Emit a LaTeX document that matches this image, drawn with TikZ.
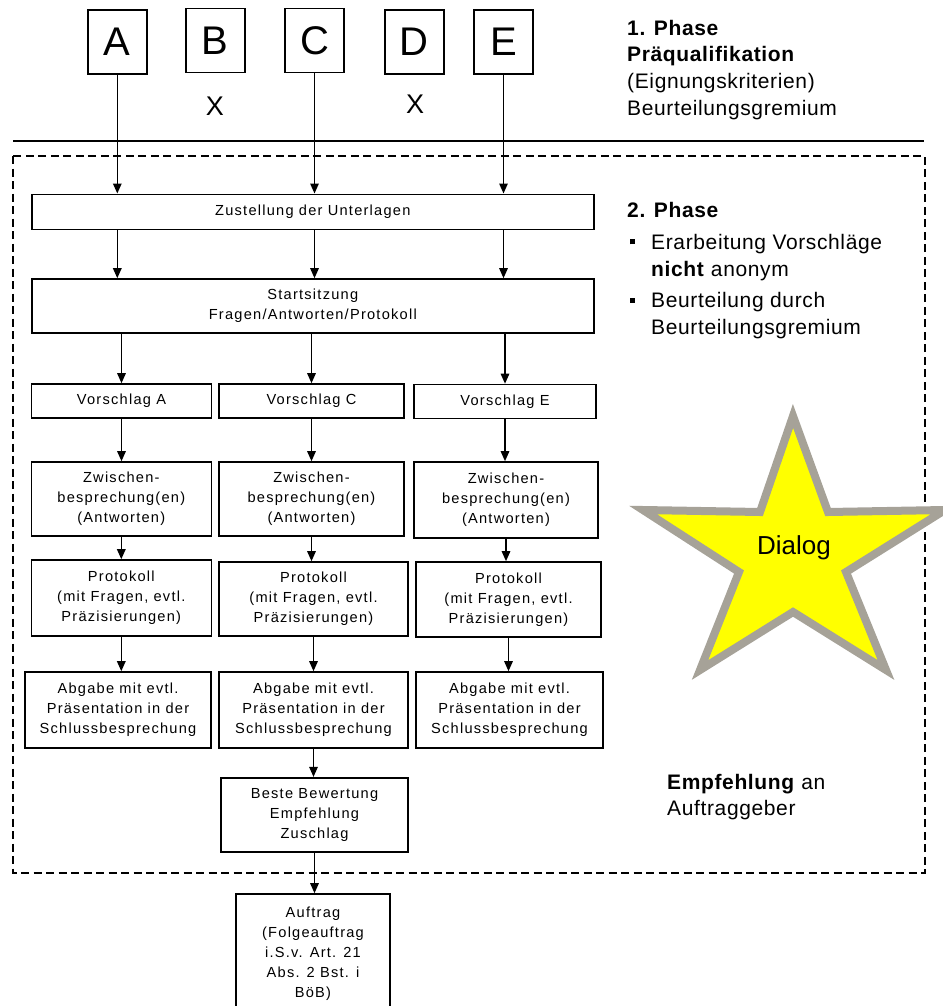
\documentclass[tikz,border=0pt]{standalone}
\usepackage{fontspec}
\setmainfont{Liberation Sans}
\newfontfamily\boxfont[LetterSpace=8.5]{Liberation Sans}
\newfontfamily\sidefont[LetterSpace=3]{Liberation Sans}
\usetikzlibrary{arrows.meta}
\definecolor{starline}{RGB}{166,162,152}
\definecolor{starfill}{RGB}{255,255,0}

\begin{document}
\begin{tikzpicture}[x=1pt, y=-1pt, >={Triangle[length=10pt,width=8.5pt]}]
        \tikzstyle{every node}=[inner sep=0pt]
        \tikzstyle{firm}=[draw, line width=1.6pt, minimum width=59pt, minimum height=64pt, font=\fontsize{40}{40}\selectfont]
        \tikzstyle{stepbox}=[draw, line width=1.6pt, align=center, font=\boxfont\fontsize{14.6}{20}\selectfont]
        \tikzstyle{side}=[anchor=north west, font=\sidefont\fontsize{21}{26.7}\selectfont]
        \tikzstyle{flow}=[->, line width=1.4pt]

        \useasboundingbox (0,0) rectangle (942,1006);

        % phase line and dialog frame
        \draw[line width=1.6pt] (13,140.7) -- (924,140.7);
        \draw[line width=1.3pt, dash pattern=on 8pt off 4.5pt] (13,156) rectangle (925,873);

        % firms
        \node (A) [firm] at (117.3,42) {A};
        \node (B) [firm] at (215.3,40.5) {B};
        \node (C) [firm] at (314.5,40.5) {C};
        \node (D) [firm] at (414.3,42) {D};
        \node (E) [firm] at (503.5,42) {E};
        \node (xB) [font=\fontsize{27}{27}\selectfont] at (215,106.7) {X};
        \node (xD) [font=\fontsize{27}{27}\selectfont] at (415,104) {X};

        % steps
        \node (zu)    [stepbox, minimum width=562pt, minimum height=35pt] at (312.8,211.8) {Zustellung der Unterlagen};
        \node (start) [stepbox, minimum width=562pt, minimum height=54pt] at (312.8,306) {Startsitzung\\Fragen/Antworten/Protokoll};

        \node (vA) [stepbox, minimum width=180pt, minimum height=34pt] at (121.5,401) {Vorschlag A};
        \node (vC) [stepbox, minimum width=185pt, minimum height=34pt] at (311.5,401) {Vorschlag C};
        \node (vE) [stepbox, minimum width=182pt, minimum height=34pt] at (505,401.5) {Vorschlag E};

        \node (zwA) [stepbox, minimum width=180pt, minimum height=74pt] at (121.3,499) {Zwischen-\\besprechung(en)\\(Antworten)};
        \node (zwC) [stepbox, minimum width=185pt, minimum height=74pt] at (311.5,499) {Zwischen-\\besprechung(en)\\(Antworten)};
        \node (zwE) [stepbox, minimum width=184pt, minimum height=76pt] at (506,500) {Zwischen-\\besprechung(en)\\(Antworten)};

        \node (pA) [stepbox, minimum width=180pt, minimum height=76pt] at (121.3,598) {Protokoll\\(mit Fragen, evtl.\\Präzisierungen)};
        \node (pC) [stepbox, minimum width=189pt, minimum height=74pt] at (313.5,599) {Protokoll\\(mit Fragen, evtl.\\Präzisierungen)};
        \node (pE) [stepbox, minimum width=185pt, minimum height=75pt] at (508.5,599.5) {Protokoll\\(mit Fragen, evtl.\\Präzisierungen)};

        \node (aA) [stepbox, minimum width=186pt, minimum height=76pt] at (118,710) {Abgabe mit evtl.\\Präsentation in der\\Schlussbesprechung};
        \node (aC) [stepbox, minimum width=189pt, minimum height=76pt] at (313.5,710) {Abgabe mit evtl.\\Präsentation in der\\Schlussbesprechung};
        \node (aE) [stepbox, minimum width=187pt, minimum height=76pt] at (509.5,710) {Abgabe mit evtl.\\Präsentation in der\\Schlussbesprechung};

        \node (best) [stepbox, minimum width=187pt, minimum height=74pt] at (314.5,814.7) {Beste Bewertung\\Empfehlung\\Zuschlag};
        \node (auf)  [stepbox, minimum width=154pt, minimum height=120pt] at (313,954) {Auftrag\\(Folgeauftrag\\i.S.v. Art. 21\\Abs. 2 Bst. i\\BöB)};

        % side notes
        \node (ph1) [side] at (627,16.3) {\begin{tabular}{@{}l@{}}\textbf{1. Phase}\\\textbf{Präqualifikation}\\(Eignungskriterien)\\Beurteilungsgremium\end{tabular}};
        \node (ph2) [side] at (627,198.8) {\begin{tabular}{@{}p{24pt}@{}l@{}}
            \multicolumn{2}{@{}l@{}}{\textbf{2. Phase}}\\[5pt]
            \hspace*{3pt}\rule[5pt]{5pt}{5pt} & Erarbeitung Vorschläge\\
             & \textbf{nicht} anonym\\[5pt]
            \hspace*{3pt}\rule[5pt]{5pt}{5pt} & Beurteilung durch\\
             & Beurteilungsgremium
          \end{tabular}};
        \node (emp) [side] at (667,770.3) {\begin{tabular}{@{}l@{}}\textbf{Empfehlung} an\\Auftraggeber\end{tabular}};

        % dialog star
        \draw[starline, fill=starfill, line width=8pt] (793,416) -- (828,512) -- (945,510) -- (846,572) -- (886,670) -- (793,612) -- (700,670) -- (739,572) -- (643,510) -- (760,512) -- cycle;
        \node (dialog) [font=\fontsize{26}{26}\selectfont] at (794,548) {Dialog};

        % arrows
        \draw[flow] (A.south) -- (A.south |- zu.north);
        \draw[flow] (C.south) -- (C.south |- zu.north);
        \draw[flow] (E.south) -- (E.south |- zu.north);
        \draw[flow] (A.south |- zu.south) -- (A.south |- start.north);
        \draw[flow] (C.south |- zu.south) -- (C.south |- start.north);
        \draw[flow] (E.south |- zu.south) -- (E.south |- start.north);
        \draw[flow] (vA.north |- start.south) -- (vA.north);
        \draw[flow] (vC.north |- start.south) -- (vC.north);
        \draw[flow] (vE.north |- start.south) -- (vE.north);
        \draw[flow] (vA.south) -- (vA.south |- zwA.north);
        \draw[flow] (vC.south) -- (vC.south |- zwC.north);
        \draw[flow] (vE.south) -- (vE.south |- zwE.north);
        \draw[flow] (zwA.south) -- (zwA.south |- pA.north);
        \draw[flow] (zwC.south) -- (zwC.south |- pC.north);
        \draw[flow] (zwE.south) -- (zwE.south |- pE.north);
        \draw[flow] (pA.south) -- (pA.south |- aA.north);
        \draw[flow] (pC.south) -- (pC.south |- aC.north);
        \draw[flow] (pE.south) -- (pE.south |- aE.north);
        \draw[flow] (aC.south) -- (aC.south |- best.north);
        \draw[flow] (best.south) -- (best.south |- auf.north);

\end{tikzpicture}
\end{document}
